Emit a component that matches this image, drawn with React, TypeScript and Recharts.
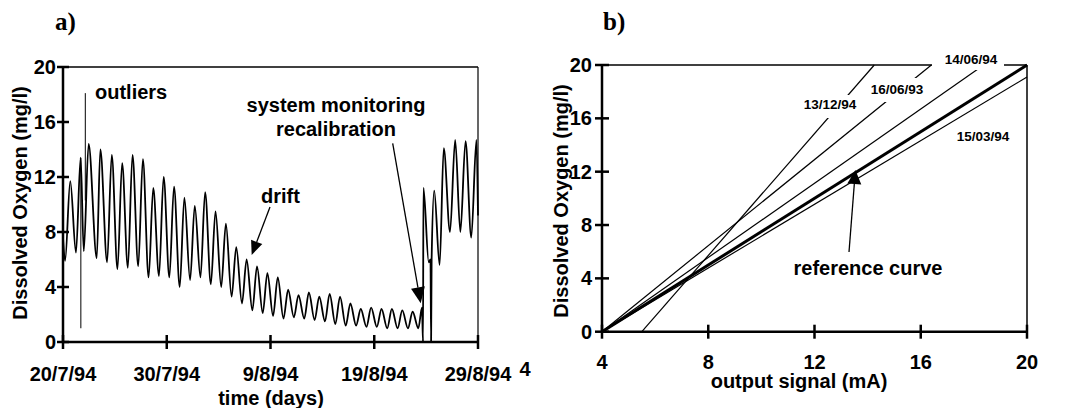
import React from "react";
import { LineChart, Line, XAxis, YAxis, ReferenceLine } from "recharts";

const FONT = '"Liberation Sans", Arial, Helvetica, sans-serif';
const SERIF = '"Liberation Serif", "Times New Roman", serif';

// a) dissolved oxygen time series (days after 20/7/94, mg/l)
const dayT = [
  0, 0.2, 0.7, 1.25, 1.7, 2.0, 2.47, 3.25, 3.6, 4.25, 4.7, 5.25, 5.7, 6.25, 6.7,
  7.25, 7.7, 8.25, 8.7, 9.25, 9.7, 10.25, 10.7, 11.25, 11.7, 12.25, 12.7, 13.25,
  13.7, 14.25, 14.7, 15.25, 15.7, 16.25, 16.7, 17.25, 17.7, 18.25, 18.7, 19.25,
  19.7, 20.25, 20.7, 21.25, 21.7, 22.25, 22.7, 23.25, 23.7, 24.25, 24.7, 25.25,
  25.7, 26.25, 26.7, 27.25, 27.7, 28.25, 28.7, 29.25, 29.7, 30.25, 30.7, 31.25,
  31.7, 32.25, 32.7, 33.25, 33.7, 34.25, 34.6, 34.7, 34.74, 35.25, 35.42, 35.48,
  35.53, 35.78, 36.3, 36.7, 37.3, 37.8, 38.3, 38.8, 39.35, 39.85, 40,
];
const doMgL = [
  7.6, 5.9, 11.7, 6.5, 13.4, 6.6, 14.4, 6.1, 14.0, 5.8, 13.6, 5.3, 13.0, 5.4, 13.6,
  5.5, 13.3, 4.7, 11.2, 4.8, 12.0, 4.7, 11.3, 4.0, 10.5, 4.5, 9.9, 4.7,
  10.9, 4.2, 9.5, 4.0, 8.6, 3.3, 6.9, 2.8, 6.0, 2.3, 5.5, 2.1,
  5.0, 1.9, 4.7, 1.7, 3.8, 1.8, 3.4, 1.7, 3.6, 1.6, 3.3, 1.5,
  3.5, 1.3, 3.3, 1.2, 2.8, 1.2, 2.4, 1.1, 2.5, 1.1, 2.4, 1.0,
  2.4, 1.0, 2.3, 1.0, 2.2, 1.0, 2.5, 0, 11.2, 5.8, 6.0, 0,
  6.0, 11.0, 5.6, 14.1, 8.0, 14.7, 8.0, 14.6, 7.6, 14.7, 9.2,
];
const outlierDownT = [1.72, 1.72];
const outlierDownV = [13.4, 1.0];
const outlierUpT = [2.15, 2.15];
const outlierUpV = [10.3, 18.1];

const timeTicks = [0, 10, 20, 30, 40];
const timeTickLabels = ["20/7/94", "30/7/94", "9/8/94", "19/8/94", "29/8/94"];
const oxyTicks = [0, 4, 8, 12, 16, 20];

// b) calibration curves (output signal mA -> mg/l)
const signalTicks = [4, 8, 12, 16, 20];
const refSignal = [4, 20];
const refOxy = [0, 20];
const mar94Signal = [4, 20];
const mar94Oxy = [0, 19.1];
const jun94Signal = [4, 18.37];
const jun94Oxy = [0, 20];
const jun93Signal = [4, 16.4];
const jun93Oxy = [0, 20];
const dec94Signal = [5.5, 14.25];
const dec94Oxy = [0, 20];

const zip = (xs: number[], ys: number[]) => xs.map((x, i) => ({ x, y: ys[i] }));

const doSeries = zip(dayT, doMgL);
const outlierDown = zip(outlierDownT, outlierDownV);
const outlierUp = zip(outlierUpT, outlierUpV);

const txt = { fontFamily: FONT, fontWeight: "bold" as const, fill: "#000" };

const makeXTick = (labels: string[] | null, half: number, dy: number) => (props: any) => {
  const { x, y, payload, index } = props;
  return (
    <g>
      <line x1={x} x2={x} y1={y - half} y2={y + half} stroke="#000" strokeWidth={2.5} />
      <text x={x} y={y + dy} textAnchor="middle" fontSize={20} {...txt}>
        {labels ? labels[index] : payload.value}
      </text>
    </g>
  );
};

const makeYTick = (half: number, gap: number) => (props: any) => {
  const { x, y, payload } = props;
  return (
    <g>
      <line x1={x - half} x2={x + half} y1={y} y2={y} stroke="#000" strokeWidth={2.5} />
      <text x={x - gap} y={y + 7} textAnchor="end" fontSize={20} {...txt}>
        {payload.value}
      </text>
    </g>
  );
};

const arrowHead = (x1: number, y1: number, x2: number, y2: number, len: number, half: number) => {
  const dx = x2 - x1;
  const dy = y2 - y1;
  const l = Math.hypot(dx, dy);
  const ux = dx / l;
  const uy = dy / l;
  const bx = x2 - ux * len;
  const by = y2 - uy * len;
  return {
    pts: `${x2},${y2} ${bx - uy * half},${by + ux * half} ${bx + uy * half},${by - ux * half}`,
    bx,
    by,
  };
};

const Arrow = ({ x1, y1, x2, y2, len = 14, half = 6 }: any) => {
  const h = arrowHead(x1, y1, x2, y2, len, half);
  return (
    <g>
      <line x1={x1} y1={y1} x2={h.bx} y2={h.by} stroke="#000" strokeWidth={1.3} />
      <polygon points={h.pts} fill="#000" />
    </g>
  );
};

const axisStyle = { stroke: "#000", strokeWidth: 2.5 };

const TimeSeriesChart = () => (
  <LineChart width={540} height={408} margin={{ top: 67, right: 62, bottom: 36, left: 3 }}>
    <XAxis
      type="number"
      dataKey="x"
      domain={[0, 40]}
      ticks={timeTicks}
      interval={0}
      height={30}
      tickSize={0}
      tickMargin={0}
      tickLine={false}
      axisLine={axisStyle}
      tick={makeXTick(timeTickLabels, 7, 39)}
    />
    <YAxis
      type="number"
      domain={[0, 20]}
      ticks={oxyTicks}
      interval={0}
      width={60}
      tickSize={0}
      tickMargin={0}
      tickLine={false}
      axisLine={axisStyle}
      tick={makeYTick(6, 7)}
    />
    <ReferenceLine y={20} stroke="#000" strokeWidth={1.3} />
    <ReferenceLine x={40} stroke="#000" strokeWidth={1.2} />
    <Line data={doSeries} dataKey="y" type="monotone" stroke="#000" strokeWidth={1.8} dot={false} isAnimationActive={false} />
    <Line data={outlierDown} dataKey="y" type="linear" stroke="#000" strokeWidth={1} dot={false} isAnimationActive={false} />
    <Line data={outlierUp} dataKey="y" type="linear" stroke="#000" strokeWidth={1} dot={false} isAnimationActive={false} />
  </LineChart>
);

const CalibrationChart = () => (
  <LineChart width={528} height={408} margin={{ top: 65, right: 41, bottom: 46.3, left: 2 }}>
    <XAxis
      type="number"
      dataKey="x"
      domain={[4, 20]}
      ticks={signalTicks}
      interval={0}
      height={30}
      tickSize={0}
      tickMargin={0}
      tickLine={false}
      axisLine={axisStyle}
      tick={makeXTick(null, 7, 37.5)}
    />
    <YAxis
      type="number"
      domain={[0, 20]}
      ticks={oxyTicks}
      interval={0}
      width={60}
      tickSize={0}
      tickMargin={0}
      tickLine={false}
      axisLine={axisStyle}
      tick={makeYTick(7, 10)}
    />
    <ReferenceLine y={20} stroke="#000" strokeWidth={1.5} />
    <ReferenceLine x={20} stroke="#000" strokeWidth={1.5} />
    <Line data={zip(dec94Signal, dec94Oxy)} dataKey="y" type="linear" stroke="#000" strokeWidth={1.2} dot={false} isAnimationActive={false} />
    <Line data={zip(jun93Signal, jun93Oxy)} dataKey="y" type="linear" stroke="#000" strokeWidth={1.2} dot={false} isAnimationActive={false} />
    <Line data={zip(jun94Signal, jun94Oxy)} dataKey="y" type="linear" stroke="#000" strokeWidth={1.2} dot={false} isAnimationActive={false} />
    <Line data={zip(mar94Signal, mar94Oxy)} dataKey="y" type="linear" stroke="#000" strokeWidth={1.2} dot={false} isAnimationActive={false} />
    <Line data={zip(refSignal, refOxy)} dataKey="y" type="linear" stroke="#000" strokeWidth={3} dot={false} isAnimationActive={false} />
  </LineChart>
);

const Annotations = () => (
  <svg width={1068} height={408} style={{ position: "absolute", left: 0, top: 0, pointerEvents: "none" }}>
    <text x={55} y={30} fontFamily={SERIF} fontWeight="bold" fontSize={25} fill="#000">a)</text>
    <text x={603} y={30} fontFamily={SERIF} fontWeight="bold" fontSize={25} fill="#000">b)</text>

    {/* panel a */}
    <text transform="translate(27,203) rotate(-90)" textAnchor="middle" fontSize={20} {...txt}>
      Dissolved Oxygen (mg/l)
    </text>
    <text x={271} y={405} textAnchor="middle" fontSize={20} {...txt}>time (days)</text>
    <text x={95} y={99} fontSize={20} {...txt}>outliers</text>
    <text x={336} y={112} textAnchor="middle" fontSize={20} {...txt}>system monitoring</text>
    <text x={336} y={136} textAnchor="middle" fontSize={20} {...txt}>recalibration</text>
    <text x={261} y={203} fontSize={20} {...txt}>drift</text>
    <Arrow x1={270} y1={207} x2={251.7} y2={255} len={14} half={6} />
    <Arrow x1={392.7} y1={143.3} x2={420.7} y2={303.3} len={16} half={7} />
    <text x={525} y={376} textAnchor="middle" fontSize={20} {...txt}>4</text>

    {/* panel b */}
    <text transform="translate(568,201) rotate(-90)" textAnchor="middle" fontSize={20} {...txt}>
      Dissolved Oxygen (mg/l)
    </text>
    <text x={799} y={388} textAnchor="middle" fontSize={20} {...txt}>output signal (mA)</text>
    <rect x={803} y={95} width={54} height={23} fill="#fff" />
    <rect x={868} y={78} width={58} height={24} fill="#fff" />
    <rect x={932} y={50} width={72} height={20} fill="#fff" />
    <text x={830} y={109} textAnchor="middle" fontSize={13.5} {...txt}>13/12/94</text>
    <text x={897} y={94} textAnchor="middle" fontSize={13.5} {...txt}>16/06/93</text>
    <text x={971} y={63.5} textAnchor="middle" fontSize={13.5} {...txt}>14/06/94</text>
    <text x={983} y={140.5} textAnchor="middle" fontSize={13.5} {...txt}>15/03/94</text>
    <text x={868} y={275} textAnchor="middle" fontSize={20} {...txt}>reference curve</text>
    <Arrow x1={849} y1={252} x2={855.4} y2={170} len={14} half={7} />
  </svg>
);

export default function App() {
  return (
    <div style={{ position: "absolute", left: 0, top: 0, width: 1068, height: 408, background: "#fff" }}>
      <div style={{ position: "absolute", left: 0, top: 0 }}>
        <TimeSeriesChart />
      </div>
      <div style={{ position: "absolute", left: 540, top: 0 }}>
        <CalibrationChart />
      </div>
      <Annotations />
    </div>
  );
}
